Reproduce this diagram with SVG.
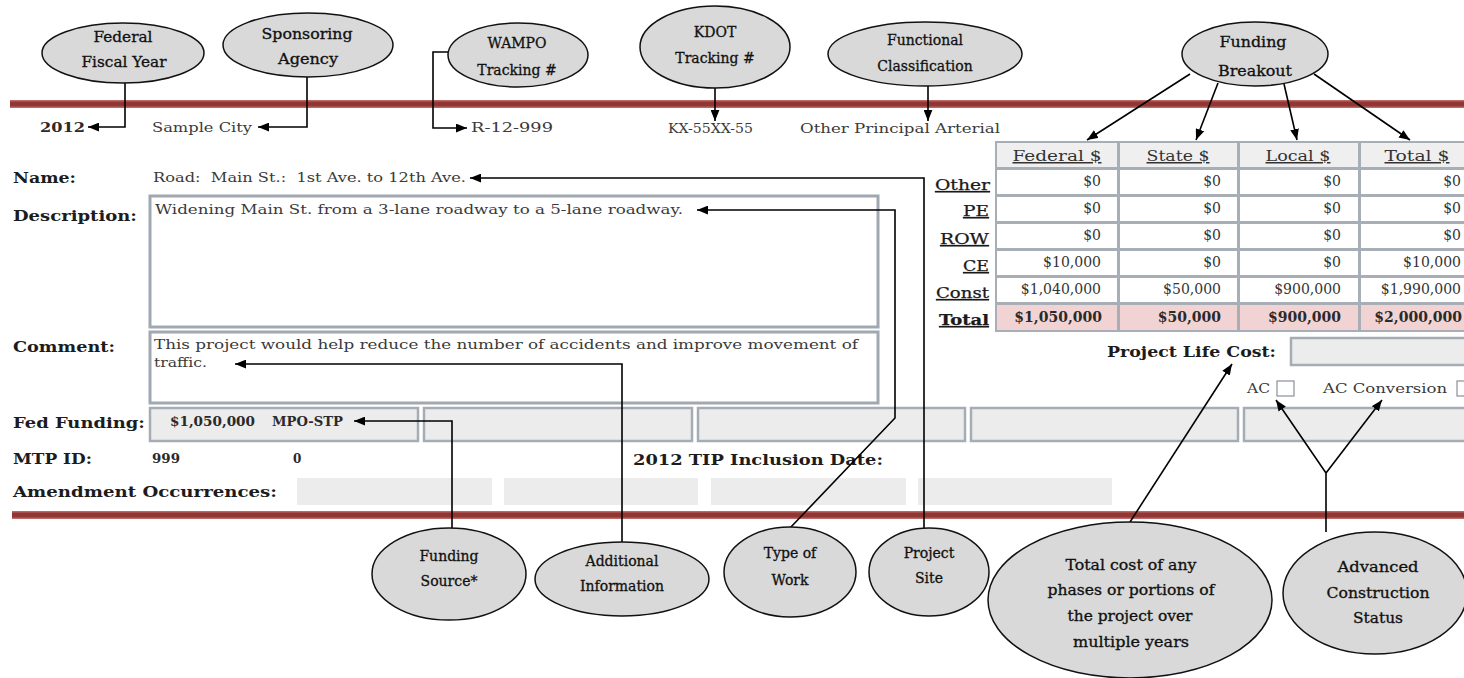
<svg xmlns="http://www.w3.org/2000/svg" width="1464" height="678" viewBox="0 0 1464 678">
<defs>
<style>
.ov{fill:#d9d9d9;stroke:#111;stroke-width:1.5}
.ot{font-family:"DejaVu Serif",serif;font-size:14px;fill:#111;stroke:#111;stroke-width:0.3;text-anchor:middle}
.ob{font-family:"DejaVu Serif",serif;font-size:14px;fill:#111;stroke:#111;stroke-width:0.3;text-anchor:middle}
.lb{font-family:"DejaVu Serif",serif;font-weight:bold;font-size:14px;fill:#1c1c1c}
.vl{font-family:"DejaVu Serif",serif;font-size:12px;fill:#3a3a3a}
.vb{font-family:"DejaVu Serif",serif;font-size:12px;font-weight:bold;fill:#2a2a2a}
.tv{font-family:"DejaVu Serif",serif;font-size:14px;fill:#333;text-anchor:end}
.tt{font-family:"DejaVu Serif",serif;font-size:14px;font-weight:bold;fill:#2a2a2a;text-anchor:end}
.th{font-family:"DejaVu Serif",serif;font-size:15px;fill:#333;text-anchor:middle;text-decoration:underline}
.rl{font-family:"DejaVu Serif",serif;font-size:14px;fill:#1a1a1a;stroke:#1a1a1a;stroke-width:0.25;text-anchor:end;text-decoration:underline}
.cn{fill:none;stroke:#000;stroke-width:1.6}
.box{fill:#fff;stroke:#a0a8b2;stroke-width:3}
.gb{fill:#ececec;stroke:#a5acb5;stroke-width:2.5}
.ga{fill:#ececec}
.cw{fill:#fff}
.chd{fill:#efefef}
.ctl{fill:#f1d3d3}
</style>
<marker id="ah" viewBox="0 0 10 8" refX="10" refY="4" markerWidth="11" markerHeight="9" markerUnits="userSpaceOnUse" orient="auto">
<path d="M0,0 L10,4 L0,8 z" fill="#000"/>
</marker>
</defs>
<rect width="1464" height="678" fill="#fff"/>

<!-- red rules -->
<g id="rules">
<rect x="10" y="100" width="1454" height="8" fill="#b86a68"/>
<rect x="10" y="101.5" width="1454" height="5" fill="#923533"/>
<rect x="12" y="511" width="1452" height="8" fill="#b86a68"/>
<rect x="12" y="512.5" width="1452" height="5" fill="#923533"/>
</g>

<!-- form fields -->
<g id="form">
<text class="vb" x="40" y="132" textLength="45" lengthAdjust="spacingAndGlyphs">2012</text>
<text class="vl" x="152" y="132" textLength="100" lengthAdjust="spacingAndGlyphs">Sample City</text>
<text class="vl" x="471" y="132" textLength="82" lengthAdjust="spacingAndGlyphs">R-12-999</text>
<text class="vl" x="668" y="133" textLength="85" lengthAdjust="spacingAndGlyphs">KX-55XX-55</text>
<text class="vl" x="800" y="133" textLength="200" lengthAdjust="spacingAndGlyphs">Other Principal Arterial</text>

<text class="lb" x="13" y="183" textLength="63" lengthAdjust="spacingAndGlyphs">Name:</text>
<text class="vl" x="153" y="182" xml:space="preserve" textLength="313" lengthAdjust="spacingAndGlyphs">Road:  Main St.:  1st Ave. to 12th Ave.</text>

<text class="lb" x="13" y="221" textLength="124" lengthAdjust="spacingAndGlyphs">Description:</text>
<rect class="box" x="150" y="196" width="728" height="131"/>
<text class="vl" x="155" y="214" font-size="14" textLength="528" lengthAdjust="spacingAndGlyphs">Widening Main St. from a 3-lane roadway to a 5-lane roadway.</text>

<text class="lb" x="13" y="352" textLength="102" lengthAdjust="spacingAndGlyphs">Comment:</text>
<rect class="box" x="150" y="332" width="728" height="71"/>
<text class="vl" x="154" y="349" font-size="14" textLength="704" lengthAdjust="spacingAndGlyphs">This project would help reduce the number of accidents and improve movement of</text>
<text class="vl" x="154" y="367" font-size="14" textLength="53" lengthAdjust="spacingAndGlyphs">traffic.</text>

<text class="lb" x="13" y="428" textLength="132" lengthAdjust="spacingAndGlyphs">Fed Funding:</text>
<rect class="gb" x="150" y="408" width="268" height="33"/>
<rect class="gb" x="424" y="408" width="268" height="33"/>
<rect class="gb" x="698" y="408" width="267" height="33"/>
<rect class="gb" x="971" y="408" width="267" height="33"/>
<rect class="gb" x="1244" y="408" width="240" height="33"/>
<text class="vb" x="170" y="426" font-size="11" textLength="85" lengthAdjust="spacingAndGlyphs">$1,050,000</text>
<text class="vb" x="272" y="426" font-size="11" textLength="71" lengthAdjust="spacingAndGlyphs">MPO-STP</text>

<text class="lb" x="13" y="464" textLength="79" lengthAdjust="spacingAndGlyphs">MTP ID:</text>
<text class="vb" x="152" y="463" font-size="10" textLength="28" lengthAdjust="spacingAndGlyphs">999</text>
<text class="vb" x="293" y="463" font-size="10">0</text>
<text class="lb" x="633" y="465" textLength="250" lengthAdjust="spacingAndGlyphs">2012 TIP Inclusion Date:</text>

<text class="lb" x="13" y="497" textLength="264" lengthAdjust="spacingAndGlyphs">Amendment Occurrences:</text>
<rect class="ga" x="297" y="478" width="195" height="27"/>
<rect class="ga" x="504" y="478" width="194" height="27"/>
<rect class="ga" x="711" y="478" width="195" height="27"/>
<rect class="ga" x="918" y="478" width="194" height="27"/>

<text class="lb" x="1107" y="357" textLength="169" lengthAdjust="spacingAndGlyphs">Project Life Cost:</text>
<rect class="gb" x="1291" y="338" width="190" height="27"/>
<text class="vl" x="1247" y="393" font-size="13" textLength="23" lengthAdjust="spacingAndGlyphs">AC</text>
<rect x="1277" y="381" width="17" height="15" fill="#fff" stroke="#8a8f96" stroke-width="1.2"/>
<text class="vl" x="1323" y="393" font-size="13" textLength="124" lengthAdjust="spacingAndGlyphs">AC Conversion</text>
<rect x="1457" y="381" width="17" height="15" fill="#fff" stroke="#8a8f96" stroke-width="1.2"/>
</g>

<!-- funding table -->
<g id="table">
<rect x="995" y="141" width="480" height="191" fill="#a7aeb6"/>
<rect class="chd" x="997" y="143" width="120" height="24"/>
<rect class="chd" x="1120" y="143" width="117" height="24"/>
<rect class="chd" x="1240" y="143" width="118" height="24"/>
<rect class="chd" x="1361" y="143" width="114" height="24"/>
<text class="th" x="1057" y="161" textLength="89" lengthAdjust="spacingAndGlyphs">Federal $</text>
<text class="th" x="1178" y="161" textLength="63" lengthAdjust="spacingAndGlyphs">State $</text>
<text class="th" x="1298" y="161" textLength="65" lengthAdjust="spacingAndGlyphs">Local $</text>
<text class="th" x="1417" y="161" textLength="65" lengthAdjust="spacingAndGlyphs">Total $</text>

<g>
<rect class="cw" x="997" y="170" width="120" height="24"/><rect class="cw" x="1120" y="170" width="117" height="24"/><rect class="cw" x="1240" y="170" width="118" height="24"/><rect class="cw" x="1361" y="170" width="114" height="24"/>
<rect class="cw" x="997" y="197" width="120" height="24"/><rect class="cw" x="1120" y="197" width="117" height="24"/><rect class="cw" x="1240" y="197" width="118" height="24"/><rect class="cw" x="1361" y="197" width="114" height="24"/>
<rect class="cw" x="997" y="224" width="120" height="24"/><rect class="cw" x="1120" y="224" width="117" height="24"/><rect class="cw" x="1240" y="224" width="118" height="24"/><rect class="cw" x="1361" y="224" width="114" height="24"/>
<rect class="cw" x="997" y="251" width="120" height="24"/><rect class="cw" x="1120" y="251" width="117" height="24"/><rect class="cw" x="1240" y="251" width="118" height="24"/><rect class="cw" x="1361" y="251" width="114" height="24"/>
<rect class="cw" x="997" y="278" width="120" height="24"/><rect class="cw" x="1120" y="278" width="117" height="24"/><rect class="cw" x="1240" y="278" width="118" height="24"/><rect class="cw" x="1361" y="278" width="114" height="24"/>
<rect class="ctl" x="997" y="305" width="120" height="25"/><rect class="ctl" x="1120" y="305" width="117" height="25"/><rect class="ctl" x="1240" y="305" width="118" height="25"/><rect class="ctl" x="1361" y="305" width="114" height="25"/>
</g>

<text class="rl" x="990" y="190" textLength="55" lengthAdjust="spacingAndGlyphs">Other</text>
<text class="rl" x="989" y="216" textLength="26" lengthAdjust="spacingAndGlyphs">PE</text>
<text class="rl" x="989" y="244" textLength="49" lengthAdjust="spacingAndGlyphs">ROW</text>
<text class="rl" x="989" y="271" textLength="26" lengthAdjust="spacingAndGlyphs">CE</text>
<text class="rl" x="989" y="298" textLength="53" lengthAdjust="spacingAndGlyphs">Const</text>
<text class="rl" x="989" y="325" font-weight="bold" textLength="50" lengthAdjust="spacingAndGlyphs">Total</text>

<text class="tv" x="1101" y="186">$0</text><text class="tv" x="1221" y="186">$0</text><text class="tv" x="1341" y="186">$0</text><text class="tv" x="1461" y="186">$0</text>
<text class="tv" x="1101" y="213">$0</text><text class="tv" x="1221" y="213">$0</text><text class="tv" x="1341" y="213">$0</text><text class="tv" x="1461" y="213">$0</text>
<text class="tv" x="1101" y="240">$0</text><text class="tv" x="1221" y="240">$0</text><text class="tv" x="1341" y="240">$0</text><text class="tv" x="1461" y="240">$0</text>
<text class="tv" x="1101" y="267">$10,000</text><text class="tv" x="1221" y="267">$0</text><text class="tv" x="1341" y="267">$0</text><text class="tv" x="1461" y="267">$10,000</text>
<text class="tv" x="1101" y="294">$1,040,000</text><text class="tv" x="1221" y="294">$50,000</text><text class="tv" x="1341" y="294">$900,000</text><text class="tv" x="1461" y="294">$1,990,000</text>
<text class="tt" x="1102" y="322">$1,050,000</text><text class="tt" x="1221" y="322">$50,000</text><text class="tt" x="1341" y="322">$900,000</text><text class="tt" x="1462" y="322">$2,000,000</text>
</g>

<!-- connectors -->
<g id="connectors">
<path class="cn" d="M125,83 V127 H88" marker-end="url(#ah)"/>
<path class="cn" d="M307,77 V127 H258" marker-end="url(#ah)"/>
<path class="cn" d="M448,52 H433 V128 H467" marker-end="url(#ah)"/>
<path class="cn" d="M715,88 V121" marker-end="url(#ah)"/>
<path class="cn" d="M928,86 V121" marker-end="url(#ah)"/>
<path class="cn" d="M1190,74 L1087,140" marker-end="url(#ah)"/>
<path class="cn" d="M1218,83 L1196,140" marker-end="url(#ah)"/>
<path class="cn" d="M1284,84 L1297,140" marker-end="url(#ah)"/>
<path class="cn" d="M1314,74 L1410,140" marker-end="url(#ah)"/>
<path class="cn" d="M924,528 V178 H470" marker-end="url(#ah)"/>
<path class="cn" d="M790,528 L895,418 V210 H697" marker-end="url(#ah)"/>
<path class="cn" d="M622,543 V364 H235" marker-end="url(#ah)"/>
<path class="cn" d="M452,528 V421 H354" marker-end="url(#ah)"/>
<path class="cn" d="M1130,522 L1232,364" marker-end="url(#ah)"/>
<path class="cn" d="M1326,532 V473 L1276,400" marker-end="url(#ah)"/>
<path class="cn" d="M1326,473 L1382,400" marker-end="url(#ah)"/>
</g>

<!-- top callouts -->
<g id="n-federal-fiscal-year">
<ellipse class="ov" cx="123" cy="53" rx="81" ry="30"/>
<text class="ot" x="123" y="42" textLength="59" lengthAdjust="spacingAndGlyphs">Federal</text>
<text class="ot" x="124" y="67" textLength="85" lengthAdjust="spacingAndGlyphs">Fiscal Year</text>
</g>
<g id="n-sponsoring-agency">
<ellipse class="ov" cx="308" cy="45" rx="85" ry="32"/>
<text class="ot" x="307" y="39" textLength="91" lengthAdjust="spacingAndGlyphs">Sponsoring</text>
<text class="ot" x="308" y="64" textLength="60" lengthAdjust="spacingAndGlyphs">Agency</text>
</g>
<g id="n-wampo">
<ellipse class="ov" cx="518" cy="55" rx="70" ry="32"/>
<text class="ot" x="517" y="48">WAMPO</text>
<text class="ot" x="517" y="75">Tracking #</text>
</g>
<g id="n-kdot">
<ellipse class="ov" cx="715" cy="47" rx="75" ry="41"/>
<text class="ot" x="715" y="37">KDOT</text>
<text class="ot" x="715" y="63">Tracking #</text>
</g>
<g id="n-functional">
<ellipse class="ov" cx="925" cy="54" rx="97" ry="32"/>
<text class="ot" x="925" y="45">Functional</text>
<text class="ot" x="925" y="71">Classification</text>
</g>
<g id="n-funding-breakout">
<ellipse class="ov" cx="1255" cy="54" rx="73" ry="32"/>
<text class="ot" x="1253" y="47" textLength="67" lengthAdjust="spacingAndGlyphs">Funding</text>
<text class="ot" x="1255" y="76" textLength="74" lengthAdjust="spacingAndGlyphs">Breakout</text>
</g>

<!-- bottom callouts -->
<g id="n-funding-source">
<ellipse class="ov" cx="449" cy="574" rx="77" ry="46"/>
<text class="ob" x="449" y="561">Funding</text>
<text class="ob" x="449" y="586">Source*</text>
</g>
<g id="n-additional-information">
<ellipse class="ov" cx="622" cy="579" rx="87" ry="37"/>
<text class="ob" x="622" y="566">Additional</text>
<text class="ob" x="622" y="591">Information</text>
</g>
<g id="n-type-of-work">
<ellipse class="ov" cx="790" cy="572" rx="66" ry="45"/>
<text class="ob" x="790" y="558">Type of</text>
<text class="ob" x="790" y="585">Work</text>
</g>
<g id="n-project-site">
<ellipse class="ov" cx="929" cy="572" rx="60" ry="44"/>
<text class="ob" x="929" y="558">Project</text>
<text class="ob" x="929" y="583">Site</text>
</g>
<g id="n-total-cost">
<ellipse class="ov" cx="1130" cy="600" rx="142" ry="78"/>
<text class="ob" x="1131" y="570" textLength="131" lengthAdjust="spacingAndGlyphs">Total cost of any</text>
<text class="ob" x="1131" y="595" textLength="167" lengthAdjust="spacingAndGlyphs">phases or portions of</text>
<text class="ob" x="1130" y="621" textLength="125" lengthAdjust="spacingAndGlyphs">the project over</text>
<text class="ob" x="1131" y="647" textLength="116" lengthAdjust="spacingAndGlyphs">multiple years</text>
</g>
<g id="n-advanced-construction">
<ellipse class="ov" cx="1375" cy="593" rx="92" ry="61"/>
<text class="ob" x="1378" y="572" textLength="81" lengthAdjust="spacingAndGlyphs">Advanced</text>
<text class="ob" x="1378" y="598" textLength="103" lengthAdjust="spacingAndGlyphs">Construction</text>
<text class="ob" x="1378" y="623" textLength="50" lengthAdjust="spacingAndGlyphs">Status</text>
</g>
</svg>
